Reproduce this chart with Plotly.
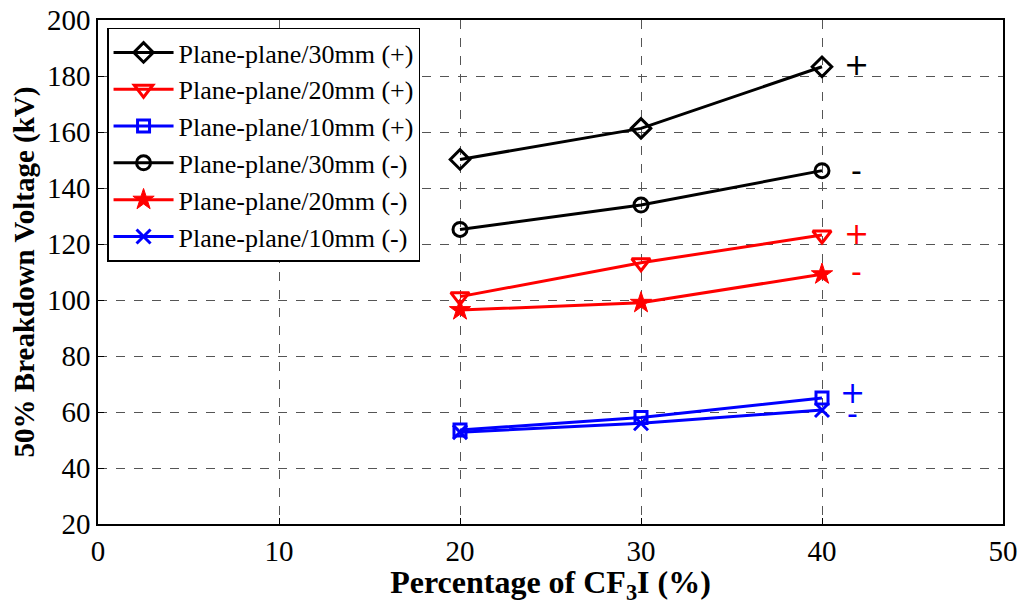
import plotly.graph_objects as go

# CF3I percentage
cf3i_pct = [20, 30, 40]

# 50% breakdown voltage (kV) for each gap / polarity
v_30mm_pos = [150.2, 161.3, 183.3]
v_20mm_pos = [101.2, 113.3, 123.2]
v_10mm_pos = [53.6, 58.0, 65.0]
v_30mm_neg = [125.2, 133.9, 146.2]
v_20mm_neg = [96.4, 99.0, 109.2]
v_10mm_neg = [52.8, 56.0, 60.7]

series_names = [
    "Plane-plane/30mm (+)",
    "Plane-plane/20mm (+)",
    "Plane-plane/10mm (+)",
    "Plane-plane/30mm (-)",
    "Plane-plane/20mm (-)",
    "Plane-plane/10mm (-)",
]

# polarity tags placed beside the 40% points
tag_text = ["+", "-", "+", "-", "+", "-"]
tag_x = [41.9, 41.9, 41.9, 41.9, 41.7, 41.7]
tag_y = [184.0, 146.4, 123.6, 110.2, 66.8, 59.6]
tag_colors = ["black", "black", "red", "red", "blue", "blue"]

FONT = "Liberation Serif, Times New Roman, serif"

styles = [
    dict(color="black", symbol="diamond-open", size=15, lw=3),
    dict(color="red", symbol="triangle-down-open", size=16, lw=3),
    dict(color="blue", symbol="square-open", size=12, lw=3),
    dict(color="black", symbol="circle-open", size=14, lw=3),
    dict(color="red", symbol="star", size=16, lw=1),
    dict(color="blue", symbol="x-thin-open", size=14, lw=3),
]
values = [v_30mm_pos, v_20mm_pos, v_10mm_pos, v_30mm_neg, v_20mm_neg, v_10mm_neg]

fig = go.Figure()
for i, (name, vals, st) in enumerate(zip(series_names, values, styles)):
    fig.add_trace(go.Scatter(
        x=cf3i_pct, y=vals, name=name, mode="lines+markers",
        legendgroup=f"g{i}",
        line=dict(color=st["color"], width=3),
        marker=dict(symbol=st["symbol"], size=st["size"], color=st["color"],
                    line=dict(color=st["color"], width=st["lw"])),
    ))

for t, x, y, c in zip(tag_text, tag_x, tag_y, tag_colors):
    fig.add_annotation(x=x, y=y, text=t, showarrow=False,
                       font=dict(family="DejaVu Sans, sans-serif", size=30, color=c))

axis_common = dict(
    showline=True, linecolor="black", linewidth=1.5, mirror=True,
    showgrid=True, gridcolor="#555555", griddash="dash", gridwidth=1,
    zeroline=False, ticks="inside", ticklen=6, tickcolor="black",
    tickfont=dict(family=FONT, size=29, color="black"),
    automargin=False,
)

fig.update_xaxes(range=[0, 50], dtick=10, **axis_common,
                 title=dict(text="<b>Percentage of CF<sub>3</sub>I (%)</b>",
                            font=dict(family=FONT, size=32, color="black"),
                            standoff=2))
fig.update_yaxes(range=[20, 200], dtick=20, **axis_common,
                 title=dict(text="<b>50% Breakdown Voltage (kV)</b>",
                            font=dict(family=FONT, size=29, color="black"),
                            standoff=4))

fig.update_layout(
    width=1027, height=605,
    margin=dict(l=98, r=24, t=20, b=81),
    paper_bgcolor="white", plot_bgcolor="white",
    legend=dict(x=0.01, y=0.985, xanchor="left", yanchor="top",
                bgcolor="white", bordercolor="black", borderwidth=1.5,
                font=dict(family=FONT, size=26, color="black"),
                tracegroupgap=0, itemwidth=60),
)

fig.write_html("out.html")
